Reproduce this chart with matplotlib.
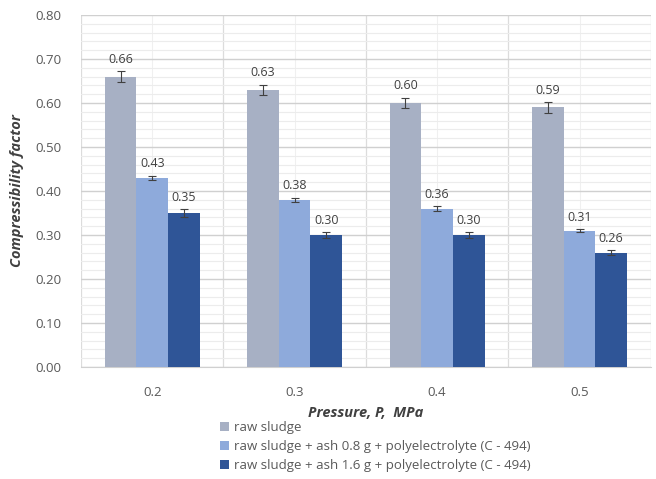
import matplotlib.pyplot as plt
import numpy as np

# data
pressures = ['0.2', '0.3', '0.4', '0.5']
raw = [0.66, 0.63, 0.60, 0.59]
ash08 = [0.43, 0.38, 0.36, 0.31]
ash16 = [0.35, 0.30, 0.30, 0.26]
raw_err = [0.012, 0.012, 0.012, 0.012]
ash08_err = [0.005, 0.005, 0.005, 0.004]
ash16_err = [0.008, 0.006, 0.006, 0.006]
labels = ['raw sludge',
          'raw sludge + ash 0.8 g + polyelectrolyte (C - 494)',
          'raw sludge + ash 1.6 g + polyelectrolyte (C - 494)']
colors = ['#A7B0C4', '#8EAADB', '#2F5597']

plt.rcParams['font.family'] = ['Open Sans', 'DejaVu Sans']

fig = plt.figure(figsize=(6.56, 4.79), dpi=100)
ax = fig.add_axes([0.1235, 0.2338, 0.8685, 0.7349])

x = np.arange(len(pressures))
w = 0.222
series = [(raw, raw_err), (ash08, ash08_err), (ash16, ash16_err)]
for i, (vals, errs) in enumerate(series):
    pos = x + (i - 1) * w
    ax.bar(pos, vals, w, color=colors[i], label=labels[i], zorder=3)
    ax.errorbar(pos, vals, yerr=errs, fmt='none', ecolor='#404040',
                elinewidth=0.8, capsize=3, capthick=0.8, zorder=4)
    for p, v, e in zip(pos, vals, errs):
        ax.text(p, v + e + 0.012, f'{v:.2f}', ha='center', va='bottom',
                fontsize=9, color='#404040', zorder=5)

ax.set_xlim(-0.5, len(pressures) - 0.5)
ax.set_ylim(0, 0.8)
ax.set_yticks(np.arange(0, 0.81, 0.1))
ax.set_yticklabels([f'{t:.2f}' for t in np.arange(0, 0.81, 0.1)])
ax.set_yticks(np.arange(0, 0.81, 0.02), minor=True)
ax.set_xticks(x)
ax.set_xticklabels(pressures)
ax.set_xticks(np.arange(-0.5, len(pressures), 1.0), minor=True)

ax.grid(axis='y', which='major', color='#D0D0D0', linewidth=1.0, zorder=0)
ax.grid(axis='y', which='minor', color='#ECECEC', linewidth=0.8, zorder=0)
ax.grid(axis='x', which='minor', color='#DCDCDC', linewidth=0.9, zorder=0)
ax.grid(axis='x', which='major', color='#F0F0F0', linewidth=0.8, zorder=0)
ax.tick_params(axis='both', which='both', length=0, colors='#595959',
               labelsize=9.5)
ax.tick_params(axis='x', pad=14)
ax.tick_params(axis='y', pad=14)
for s in ['top', 'right', 'left']:
    ax.spines[s].set_visible(False)
ax.spines['bottom'].set_color('#D0D0D0')

ax.set_ylabel('Compressibility factor', fontsize=10.5, fontweight='bold',
              fontstyle='italic', color='#404040', labelpad=8)
ax.set_xlabel('Pressure, P,  MPa', fontsize=10.5, fontweight='bold',
              fontstyle='italic', color='#404040', labelpad=5)

leg = fig.legend(loc='upper left', bbox_to_anchor=(0.325, 0.135), frameon=False,
                 fontsize=9.5, handlelength=0.7, handleheight=0.7,
                 handletextpad=0.4, labelspacing=0.45, borderpad=0)
for t in leg.get_texts():
    t.set_color('#595959')

fig.savefig('out.png', dpi=100)
